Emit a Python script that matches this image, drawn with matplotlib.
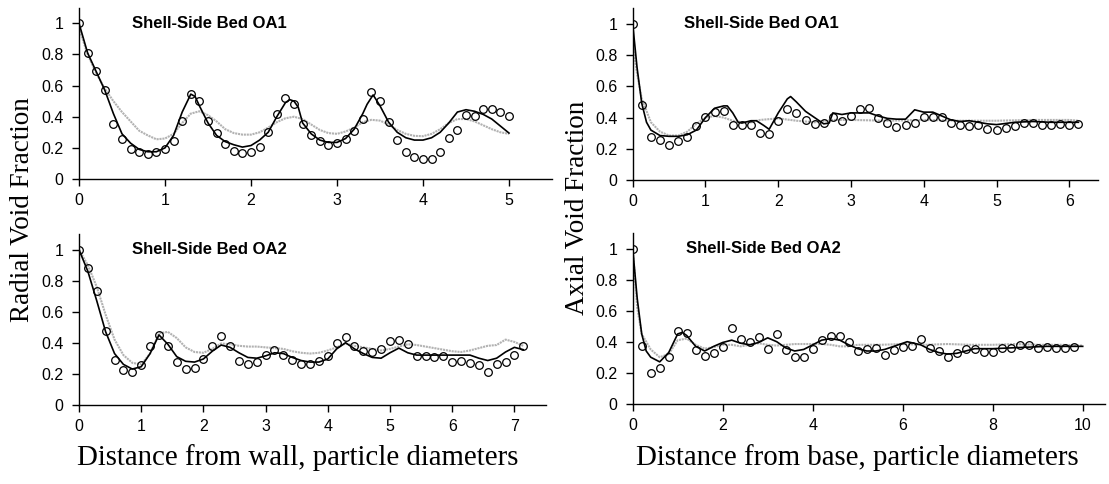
import matplotlib
matplotlib.use("Agg")
import matplotlib.pyplot as plt

# ---------------- data ----------------
# Radial, bed OA1 (top left)
tl_pts_x = [round(0.1 * i, 1) for i in range(51)]
tl_pts_y = [1.0, 0.807, 0.696, 0.572, 0.353, 0.255, 0.195, 0.171, 0.158, 0.171,
            0.195, 0.244, 0.37, 0.546, 0.503, 0.37, 0.293, 0.223, 0.182, 0.169,
            0.176, 0.206, 0.302, 0.417, 0.522, 0.484, 0.353, 0.283, 0.246, 0.22,
            0.229, 0.257, 0.306, 0.383, 0.559, 0.499, 0.364, 0.25, 0.175, 0.143,
            0.128, 0.13, 0.171, 0.263, 0.315, 0.411, 0.407, 0.448, 0.45, 0.428,
            0.403]
tl_fit_x = [0, 0.1, 0.2, 0.3, 0.4, 0.5, 0.6, 0.7, 0.8, 0.9, 1.0, 1.1, 1.2, 1.3,
            1.35, 1.4, 1.5, 1.6, 1.7, 1.8, 1.9, 2.0, 2.1, 2.2, 2.3, 2.4, 2.45,
            2.5, 2.55, 2.6, 2.7, 2.8, 2.9, 3.0, 3.1, 3.2, 3.3, 3.35, 3.42, 3.5,
            3.6, 3.7, 3.8, 3.9, 4.0, 4.1, 4.2, 4.3, 4.4, 4.5, 4.6, 4.7, 4.8,
            4.9, 5.0]
tl_fit_y = [1.0, 0.81, 0.69, 0.57, 0.42, 0.29, 0.23, 0.19, 0.175, 0.175, 0.2,
            0.28, 0.43, 0.545, 0.53, 0.47, 0.36, 0.28, 0.24, 0.22, 0.205, 0.215,
            0.25, 0.3, 0.4, 0.49, 0.51, 0.5, 0.46, 0.36, 0.29, 0.25, 0.235,
            0.235, 0.26, 0.32, 0.42, 0.48, 0.54, 0.47, 0.365, 0.3, 0.265, 0.25,
            0.25, 0.265, 0.3, 0.36, 0.43, 0.445, 0.435, 0.415, 0.385, 0.34,
            0.295]
tl_mod_x = [round(0.1 * i, 1) for i in range(51)]
tl_mod_y = [0.97, 0.8, 0.68, 0.58, 0.5, 0.43, 0.37, 0.31, 0.28, 0.255, 0.26,
            0.29, 0.36, 0.42, 0.435, 0.41, 0.37, 0.32, 0.295, 0.285, 0.285, 0.3,
            0.33, 0.365, 0.39, 0.4, 0.385, 0.35, 0.315, 0.295, 0.29, 0.305,
            0.33, 0.365, 0.38, 0.375, 0.35, 0.315, 0.29, 0.277, 0.275, 0.29,
            0.32, 0.36, 0.385, 0.385, 0.37, 0.345, 0.32, 0.3, 0.29]

# Axial, bed OA1 (top right)
tr_pts_x = [0.125 * i for i in range(50)]
tr_pts_y = [1.0, 0.483, 0.278, 0.256, 0.226, 0.252, 0.274, 0.346, 0.402, 0.438,
            0.444, 0.35, 0.35, 0.353, 0.299, 0.297, 0.38, 0.457, 0.432, 0.383,
            0.361, 0.363, 0.402, 0.378, 0.41, 0.453, 0.46, 0.4, 0.364, 0.338,
            0.35, 0.365, 0.404, 0.404, 0.402, 0.364, 0.353, 0.345, 0.355, 0.329,
            0.323, 0.331, 0.348, 0.363, 0.363, 0.353, 0.353, 0.361, 0.355, 0.361]
tr_fit_x = [0, 0.06, 0.125, 0.19, 0.25, 0.375, 0.5, 0.625, 0.75, 0.875, 1.0,
            1.125, 1.25, 1.3, 1.375, 1.45, 1.5, 1.625, 1.7, 1.8, 1.875, 2.0,
            2.125, 2.17, 2.25, 2.375, 2.5, 2.625, 2.7, 2.75, 2.875, 3.0, 3.125,
            3.25, 3.375, 3.5, 3.625, 3.75, 3.875, 4.0, 4.125, 4.25, 4.375, 4.5,
            4.625, 4.75, 4.875, 5.0, 5.25, 5.5, 5.75, 6.0, 6.125]
tr_fit_y = [1.0, 0.72, 0.49, 0.37, 0.32, 0.285, 0.28, 0.28, 0.29, 0.32, 0.4,
            0.46, 0.475, 0.475, 0.43, 0.37, 0.365, 0.38, 0.38, 0.35, 0.325,
            0.43, 0.52, 0.535, 0.5, 0.44, 0.4, 0.36, 0.365, 0.43, 0.42, 0.43,
            0.43, 0.43, 0.41, 0.395, 0.39, 0.39, 0.45, 0.435, 0.435, 0.41,
            0.385, 0.375, 0.38, 0.37, 0.36, 0.355, 0.37, 0.375, 0.37, 0.37,
            0.37]
tr_mod_x = [0, 0.06, 0.125, 0.25, 0.375, 0.5, 0.625, 0.75, 0.875, 1.0, 1.125,
            1.25, 1.375, 1.5, 1.625, 1.75, 2.0, 2.25, 2.5, 2.75, 3.0, 3.5, 4.0,
            4.5, 5.0, 5.5, 6.0, 6.125]
tr_mod_y = [0.88, 0.68, 0.52, 0.37, 0.31, 0.285, 0.285, 0.31, 0.36, 0.4, 0.41,
            0.4, 0.38, 0.37, 0.37, 0.385, 0.395, 0.38, 0.37, 0.385, 0.385, 0.38,
            0.385, 0.38, 0.38, 0.385, 0.385, 0.38]

# Radial, bed OA2 (bottom left)
bl_pts_x = [i / 7 for i in range(51)]
bl_pts_y = [1.0, 0.882, 0.735, 0.475, 0.29, 0.222, 0.214, 0.258, 0.377, 0.448,
            0.377, 0.277, 0.228, 0.237, 0.293, 0.381, 0.441, 0.381, 0.282,
            0.262, 0.277, 0.319, 0.355, 0.32, 0.29, 0.265, 0.262, 0.282, 0.312,
            0.4, 0.435, 0.377, 0.348, 0.342, 0.359, 0.411, 0.419, 0.39, 0.316,
            0.316, 0.307, 0.312, 0.273, 0.28, 0.267, 0.254, 0.213, 0.26, 0.273,
            0.323, 0.379]
bl_fit_x = [i / 7 for i in range(51)]
bl_fit_y = [1.0, 0.86, 0.67, 0.47, 0.33, 0.26, 0.23, 0.245, 0.33, 0.45, 0.39,
            0.31, 0.28, 0.275, 0.295, 0.345, 0.385, 0.37, 0.335, 0.305, 0.3,
            0.315, 0.335, 0.33, 0.305, 0.285, 0.275, 0.275, 0.295, 0.36, 0.4,
            0.36, 0.33, 0.305, 0.3, 0.335, 0.365, 0.335, 0.32, 0.32, 0.32, 0.32,
            0.32, 0.32, 0.32, 0.3, 0.285, 0.3, 0.34, 0.37, 0.355]
bl_mod_x = [i / 7 for i in range(51)]
bl_mod_y = [1.0, 0.9, 0.76, 0.58, 0.42, 0.32, 0.27, 0.26, 0.33, 0.46, 0.47,
            0.43, 0.37, 0.34, 0.335, 0.36, 0.395, 0.39, 0.38, 0.375, 0.375,
            0.37, 0.365, 0.36, 0.345, 0.335, 0.33, 0.335, 0.35, 0.37, 0.395,
            0.38, 0.37, 0.36, 0.35, 0.36, 0.375, 0.39, 0.385, 0.375, 0.365,
            0.355, 0.345, 0.34, 0.35, 0.365, 0.38, 0.385, 0.42, 0.405, 0.38]

# Axial, bed OA2 (bottom right)
br_pts_x = [round(0.2 * i, 1) for i in range(50)]
br_pts_y = [1.0, 0.374, 0.2, 0.228, 0.303, 0.471, 0.454, 0.346, 0.305, 0.327,
            0.364, 0.486, 0.415, 0.4, 0.428, 0.355, 0.452, 0.346, 0.301, 0.303,
            0.353, 0.409, 0.435, 0.439, 0.398, 0.342, 0.355, 0.359, 0.314,
            0.344, 0.363, 0.374, 0.417, 0.357, 0.34, 0.301, 0.327, 0.353, 0.355,
            0.336, 0.336, 0.359, 0.359, 0.378, 0.378, 0.357, 0.364, 0.361,
            0.361, 0.364]
br_fit_x = [0, 0.1, 0.2, 0.3, 0.4, 0.6, 0.8, 1.0, 1.1, 1.2, 1.4, 1.6, 1.8, 2.0,
            2.2, 2.4, 2.6, 2.8, 3.0, 3.2, 3.4, 3.6, 3.8, 4.0, 4.2, 4.4, 4.6,
            4.8, 5.0, 5.2, 5.4, 5.6, 5.8, 6.0, 6.1, 6.4, 6.6, 6.8, 7.0, 7.2,
            7.4, 7.6, 8.0, 8.4, 8.8, 9.2, 9.6, 10.0]
br_fit_y = [1.0, 0.68, 0.45, 0.34, 0.3, 0.27, 0.33, 0.45, 0.46, 0.44, 0.37,
            0.34, 0.37, 0.395, 0.41, 0.39, 0.38, 0.395, 0.425, 0.4, 0.36, 0.34,
            0.35, 0.38, 0.41, 0.42, 0.41, 0.38, 0.355, 0.34, 0.34, 0.35, 0.37,
            0.39, 0.4, 0.38, 0.35, 0.33, 0.32, 0.325, 0.34, 0.355, 0.355, 0.36,
            0.365, 0.37, 0.37, 0.37]
br_mod_x = [0, 0.1, 0.2, 0.4, 0.6, 0.8, 1.0, 1.2, 1.4, 1.6, 1.8, 2.0, 2.2, 2.4,
            2.6, 2.8, 3.0, 3.2, 3.4, 3.6, 3.8, 4.0, 4.2, 4.4, 4.6, 4.8, 5.0,
            5.5, 6.0, 6.5, 7.0, 7.5, 8.0, 8.5, 9.0, 9.5, 10.0]
br_mod_y = [1.0, 0.62, 0.45, 0.35, 0.3, 0.32, 0.41, 0.42, 0.38, 0.355, 0.365,
            0.38, 0.38, 0.37, 0.38, 0.39, 0.38, 0.375, 0.38, 0.385, 0.385,
            0.385, 0.385, 0.38, 0.37, 0.37, 0.38, 0.38, 0.385, 0.38, 0.385,
            0.38, 0.38, 0.385, 0.38, 0.38, 0.375]

panel_titles = ["Shell-Side Bed OA1", "Shell-Side Bed OA1",
                "Shell-Side Bed OA2", "Shell-Side Bed OA2"]
y_ticks = [0, 0.2, 0.4, 0.6, 0.8, 1.0]
y_ticklabels = ["0", "0.2", "0.4", "0.6", "0.8", "1"]

W, H = 1109, 484


def px_axes(fig, left, y0, width, height):
    """Add axes from pixel geometry (left edge, y of the x axis, width, height)."""
    return fig.add_axes([left / W, (H - y0) / H, width / W, height / H])


def draw_panel(ax, px, py, fx, fy, mx, my, xmax, xticks, title, title_x):
    ax.plot(mx, my, color="#b2b2b2", lw=1.5, ls=(0, (1, 0.4)), zorder=2)
    ax.plot(fx, fy, color="black", lw=1.2, zorder=3)
    ax.plot(px, py, ls="none", marker="o", ms=5.5, mfc="none", mec="black",
            mew=0.9, zorder=4)
    ax.set_xlim(0, xmax)
    ax.set_ylim(0, 1.1)
    ax.set_xticks(xticks)
    ax.set_yticks(y_ticks)
    ax.set_yticklabels(y_ticklabels)
    for s in ["top", "right"]:
        ax.spines[s].set_visible(False)
    for s in ["left", "bottom"]:
        ax.spines[s].set_linewidth(1.0)
    ax.tick_params(direction="out", length=5, width=1.0, labelsize=11.5)
    ax.tick_params(axis="x", pad=5)
    ax.tick_params(axis="y", pad=6)
    ax.text(title_x, 1.0, title, fontsize=12, fontweight="bold", va="center",
            ha="left")


plt.rcParams["font.family"] = ["Liberation Sans", "DejaVu Sans"]

fig = plt.figure(figsize=(W / 100, H / 100), dpi=100)

ax_tl = px_axes(fig, 79, 179, 5.5 * 86, 1.1 * 155.7)
ax_tr = px_axes(fig, 632.7, 180, 6.4 * 72.77, 1.1 * 156)
ax_bl = px_axes(fig, 79, 404.7, 7.5 * 62.2, 1.1 * 155)
ax_br = px_axes(fig, 632.7, 403.7, 10.5 * 45, 1.1 * 155)

draw_panel(ax_tl, tl_pts_x, tl_pts_y, tl_fit_x, tl_fit_y, tl_mod_x, tl_mod_y,
           5.5, range(0, 6), panel_titles[0], 0.62)
draw_panel(ax_tr, tr_pts_x, tr_pts_y, tr_fit_x, tr_fit_y, tr_mod_x, tr_mod_y,
           6.4, range(0, 7), panel_titles[1], 0.71)
draw_panel(ax_bl, bl_pts_x, bl_pts_y, bl_fit_x, bl_fit_y, bl_mod_x, bl_mod_y,
           7.5, range(0, 8), panel_titles[2], 0.85)
draw_panel(ax_br, br_pts_x, br_pts_y, br_fit_x, br_fit_y, br_mod_x, br_mod_y,
           10.5, range(0, 11, 2), panel_titles[3], 1.18)

serif = ["Liberation Serif", "DejaVu Serif"]
fig.text(23 / W, (H - 210) / H, "Radial Void Fraction", rotation=90,
         ha="center", va="center", fontsize=19.5, family=serif)
fig.text(578 / W, (H - 208) / H, "Axial Void Fraction", rotation=90,
         ha="center", va="center", fontsize=19.5, family=serif)
fig.text(298 / W, (H - 465) / H, "Distance from wall, particle diameters",
         ha="center", va="baseline", fontsize=20.8, family=serif)
fig.text(857 / W, (H - 465) / H, "Distance from base, particle diameters",
         ha="center", va="baseline", fontsize=20.8, family=serif)

fig.savefig("out.png", dpi=100)
